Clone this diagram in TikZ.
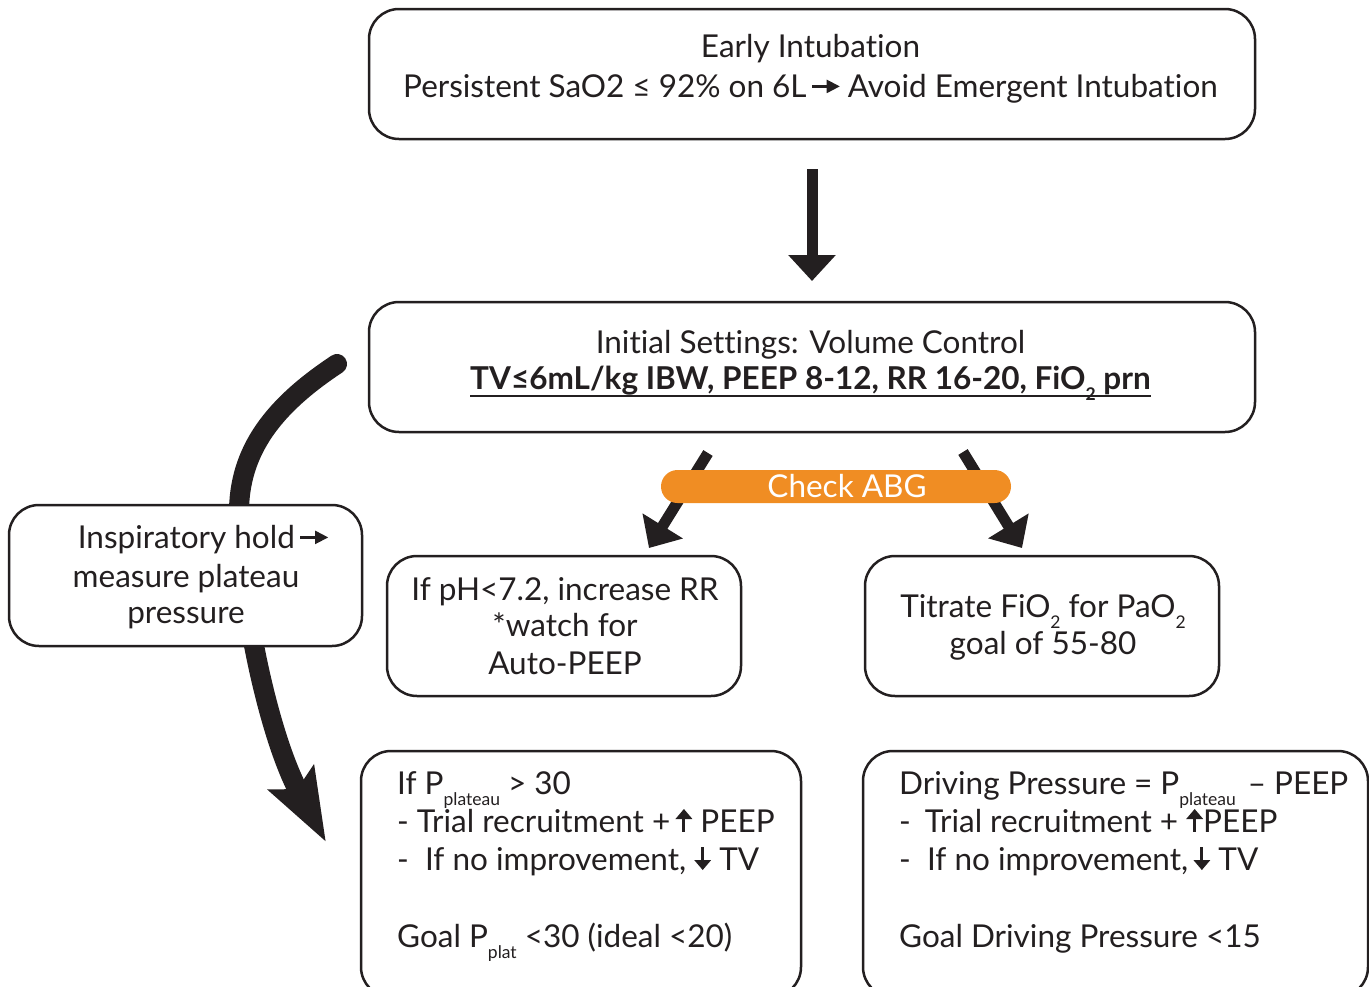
\documentclass[tikz,border=0pt]{standalone}
\usepackage{fontspec}
\setmainfont{Lato}[Ligatures={NoCommon,NoRare}]
\usetikzlibrary{arrows.meta,calc}
\definecolor{ink}{HTML}{231F20}
\definecolor{abg}{HTML}{F08D23}
\newcommand{\rarr}{\tikz[baseline=0pt,x=1pt,y=1pt]{\fill[ink] (0,9.2) rectangle (17,12.0); \fill[ink] (15,3.8)--(28,10.6)--(15,17.4)--cycle;}}
\newcommand{\uarr}{\tikz[baseline=0pt,x=1pt,y=1pt]{\fill[ink] (-1.5,0) rectangle (1.5,14); \fill[ink] (-8.5,13)--(8.5,13)--(0,23)--cycle;}}
\newcommand{\darr}{\tikz[baseline=0pt,x=1pt,y=1pt]{\fill[ink] (-1.5,23) rectangle (1.5,9); \fill[ink] (-8.5,10)--(8.5,10)--(0,0)--cycle;}}
\newcommand{\sbt}[1]{\raisebox{-11pt}{\fontsize{17.5}{17.5}\selectfont #1}}
\begin{document}
\begin{tikzpicture}[x=1pt,y=-1pt,
  box/.style={draw=ink,line width=2.5pt,rounded corners=30pt,fill=white,inner sep=0pt,outer sep=0pt},
  txt/.style={text=ink,font=\fontsize{31.5}{36}\selectfont,inner sep=0pt,anchor=base},
  ltxt/.style={txt,anchor=base west},
  uline/.style={draw=ink,line width=1.8pt},
  bigarr/.style={draw=ink,line width=11pt,-{Triangle[length=26pt,width=46pt]}},
  curvarr/.style={draw=ink,line width=20pt,line cap=round,-{Stealth[length=72pt,width=50pt,inset=12pt]}}
]
\useasboundingbox (0,0) rectangle (1369,986);
\clip (0,0) rectangle (1369,986);

% boxes
\node[box,minimum width=886pt,minimum height=130pt] (top) at (812,74) {};
\node[box,minimum width=886pt,minimum height=130pt] (init) at (812,367) {};
\node[box,minimum width=354pt,minimum height=140pt] (midL) at (564,626) {};
\node[box,minimum width=354pt,minimum height=140pt] (midR) at (1042,626) {};
\node[box,minimum width=440pt,minimum height=246pt] (botL) at (581,874) {};
\node[box,minimum width=505pt,minimum height=246pt] (botR) at (1115.5,874) {};

% connectors
\draw[bigarr] ($(top.south)+(0,30)$) -- ($(init.north)+(0,-21)$);
\coordinate (dl1) at ($(init.south)+(-104,21)$);
\coordinate (dl2) at ($(midL.north)+(85,-8)$);
\coordinate (dr1) at ($(init.south)+(151,20)$);
\coordinate (dr2) at ($(midR.north)+(-20,-8)$);
\draw[bigarr] (dl1) -- (dl2);
\draw[bigarr] (dr1) -- (dr2);

\coordinate (cs) at ($(init.west)+(-32,-3)$);
\coordinate (ce) at ($(botL.north west)+(-35,91)$);
\draw[curvarr] (cs) .. controls (275,405) and (238,450) .. (239,515) .. controls (240,600) and (268,735) .. (ce);

\node[box,minimum width=353pt,minimum height=141pt] (insp) at (185.5,575.5) {};

% check ABG pill
\node[fill=abg,rounded corners=16.5pt,minimum width=350pt,minimum height=33pt,inner sep=0pt] (abg) at (836,486.5) {};
\node[txt,text=white] (abgt) at (847,497) {Check ABG};

% texts
\node[txt] (t1) at (810.5,57) {Early Intubation};
\node[txt] (t2) at (810.5,97) {Persistent SaO2 ≤ 92\% on 6L\,\rarr\ Avoid Emergent Intubation};

\node[txt] (i1) at (810.5,353) {Init\kern0pt ial Sett\kern0pt ings: Volume Control};
\node[txt] (i2) at (810.5,389) {\bfseries TV≤6mL/kg IBW, PEEP 8-12, RR 16-20, FiO\sbt{2} prn};
\draw[uline] ($(i2.base west)+(0,7)$) -- ($(i2.base east)+(0,7)$);

\node[txt] (p1) at (203,548) {Inspiratory hold\,\rarr};
\node[txt] (p2) at (186,587) {measure plateau};
\node[txt] (p3) at (186,623) {pressure};

\node[txt] (l1) at (565,600) {If pH<7.2, increase RR};
\node[txt] (l2) at (565,636) {*watch for};
\node[txt] (l3) at (565,674) {Auto-PEEP};

\node[txt] (r1) at (1043,617) {Titrate FiO\sbt{2} for PaO\sbt{2}};
\node[txt] (r2) at (1043,654) {goal of 55-80};

\node[ltxt] (bl1) at (397,794) {If P\sbt{plateau} > 30};
\node[ltxt] (bl2) at (397,832) {- Trial recruitment +\,\uarr\ PEEP};
\node[ltxt] (bl3) at (397,870) {-\ \ If no improvement, \darr\ TV};
\node[ltxt] (bl4) at (397,947) {Goal P\sbt{plat} <30 (ideal <20)};

\node[ltxt] (br1) at (899,794) {Driving Pressure = P\sbt{plateau}\hspace{12pt}– PEEP};
\node[ltxt] (br2) at (899,832) {-\hspace{14pt}Trial recruitment + \uarr PEEP};
\node[ltxt] (br3) at (899,870) {-\ \ If no improvement,\,\darr\ TV};
\node[ltxt] (br4) at (899,947) {Goal Driving Pressure <15};
\end{tikzpicture}
\end{document}
